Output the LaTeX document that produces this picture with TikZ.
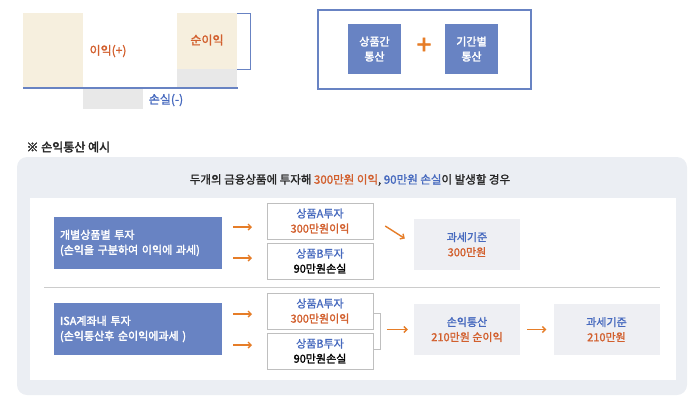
\documentclass[tikz,border=0pt]{standalone}
\usepackage{fontspec}
\setmainfont{Noto Sans CJK KR}
\newfontfamily\medfont{Noto Sans CJK KR}[FakeBold=1.5]
\newfontfamily\boldfont{Noto Sans CJK KR}[FakeBold=2.5]
\usetikzlibrary{arrows.meta}
\definecolor{isaBlue}{RGB}{104,131,195}
\definecolor{isaText}{RGB}{70,105,190}
\definecolor{isaOrange}{RGB}{230,125,40}
\definecolor{isaRed}{RGB}{210,95,45}
\definecolor{isaBeige}{RGB}{246,239,222}
\definecolor{isaGray}{RGB}{232,232,232}
\definecolor{isaBack}{RGB}{235,238,243}
\definecolor{isaBox}{RGB}{238,239,243}
\tikzset{
    bluebox/.style={fill=isaBlue, text=white, font=\boldfont\fontsize{11}{15}\selectfont, align=left, inner sep=0pt},
    prodbox/.style={draw=black!25, fill=white, minimum width=106pt, minimum height=36pt, align=center, font=\medfont\fontsize{11}{15}\selectfont, inner sep=0pt},
    taxbox/.style={fill=isaBox, minimum width=106pt, minimum height=51pt, align=center, font=\medfont\fontsize{11}{15}\selectfont, inner sep=0pt},
    oarrow/.style={-{Straight Barb[length=3pt,width=6pt]}, isaOrange, line width=1.4pt}
}
\begin{document}
\begin{tikzpicture}[x=1pt,y=-1pt]
    \useasboundingbox (0,0) rectangle (700,400);
    % profit and loss bars
    \fill[isaBeige] (23,13) rectangle (83,88);
    \fill[isaBeige] (177,13) rectangle (237,69);
    \fill[isaGray] (177,69) rectangle (237,88);
    \fill[isaGray] (83,88) rectangle (143,109);
    \draw[isaBlue, line width=1.2pt] (23,88) -- (238,88);
    \draw[isaBlue] (237,13) -- (250,13) -- (250,69) -- (237,69);
    \node[isaRed, font=\medfont\fontsize{12}{14}\selectfont] (gain) at (108,51) {이익(+)};
    \node[isaRed, font=\medfont\fontsize{12}{14}\selectfont] (net) at (207,40) {순이익};
    \node[isaText, font=\medfont\fontsize{12}{14}\selectfont] (loss) at (166,100) {손실(-)};

    % netting types
    \draw[isaBlue, line width=1.2pt] (318,10) rectangle (531,89);
    \node[bluebox, align=center, minimum width=53pt, minimum height=50pt] (between) at (374.5,49) {상품간\\통산};
    \node[isaOrange, font=\boldfont\fontsize{26}{26}\selectfont] (plus) at (424,46) {+};
    \node[bluebox, align=center, minimum width=53pt, minimum height=50pt] (period) at (471.5,49) {기간별\\통산};

    \node[anchor=west, font=\boldfont\fontsize{12}{14}\selectfont, text=black!85] (title) at (23,147) {※ 손익통산 예시};

    % example panel
    \fill[isaBack, rounded corners=10pt] (17,157) rectangle (687,395);
    \fill[white] (30,198) rectangle (676,380);
    \node[font=\medfont\fontsize{11.5}{14}\selectfont, text=black!85] (case) at (350,180)
        {두개의 금융상품에 투자해 \textcolor{isaRed}{300만원 이익}, \textcolor{isaText}{90만원 손실}이 발생할 경우};
    \draw[black!20] (44,287) -- (660,287);

    % separate investment
    \node[bluebox, minimum width=168pt, minimum height=52pt, text width=156pt] (sep) at (138,243) {개별상품별 투자\\(손익을 구분하여 이익에 과세)};
    \node[prodbox] (sepA) at (320,221) {\textcolor{isaText}{상품A투자}\\\textcolor{isaRed}{300만원이익}};
    \node[prodbox] (sepB) at (320,261) {\textcolor{isaText}{상품B투자}\\90만원손실};
    \node[taxbox] (sepTax) at (467,244.5) {\textcolor{isaText}{과세기준}\\\textcolor{isaRed}{300만원}};
    \coordinate (s1) at (233,227); \coordinate (s2) at (233,258);
    \draw[oarrow] (s1) -- (252,227);
    \draw[oarrow] (s2) -- (252,258);
    \draw[oarrow] ([shift={(12,5)}]sepA.east) -- ([shift={(-9,-6)}]sepTax.west);

    % ISA account
    \node[bluebox, minimum width=168pt, minimum height=52pt, text width=156pt] (isa) at (138,329) {ISA계좌내 투자\\(손익통산후 순이익에과세 )};
    \node[prodbox] (isaA) at (320,311) {\textcolor{isaText}{상품A투자}\\\textcolor{isaRed}{300만원이익}};
    \node[prodbox] (isaB) at (320,351) {\textcolor{isaText}{상품B투자}\\90만원손실};
    \node[taxbox] (isaNet) at (467,329.5) {\textcolor{isaText}{손익통산}\\\textcolor{isaRed}{210만원 순이익}};
    \node[taxbox] (isaTax) at (606.5,329.5) {\textcolor{isaText}{과세기준}\\\textcolor{isaRed}{210만원}};
    \coordinate (i1) at (233,314); \coordinate (i2) at (233,345);
    \draw[oarrow] (i1) -- (252,314);
    \draw[oarrow] (i2) -- (252,345);
    \draw[black!25] (isaA.east |- 0,313) -- (380,313) -- (380,349) -- (isaB.east |- 0,349);
    \draw[oarrow] ([xshift=-27pt]isaNet.west) -- ([xshift=-6pt]isaNet.west);
    \draw[oarrow] ([xshift=7pt]isaNet.east) -- ([xshift=-7pt]isaTax.west);
\end{tikzpicture}
\end{document}
